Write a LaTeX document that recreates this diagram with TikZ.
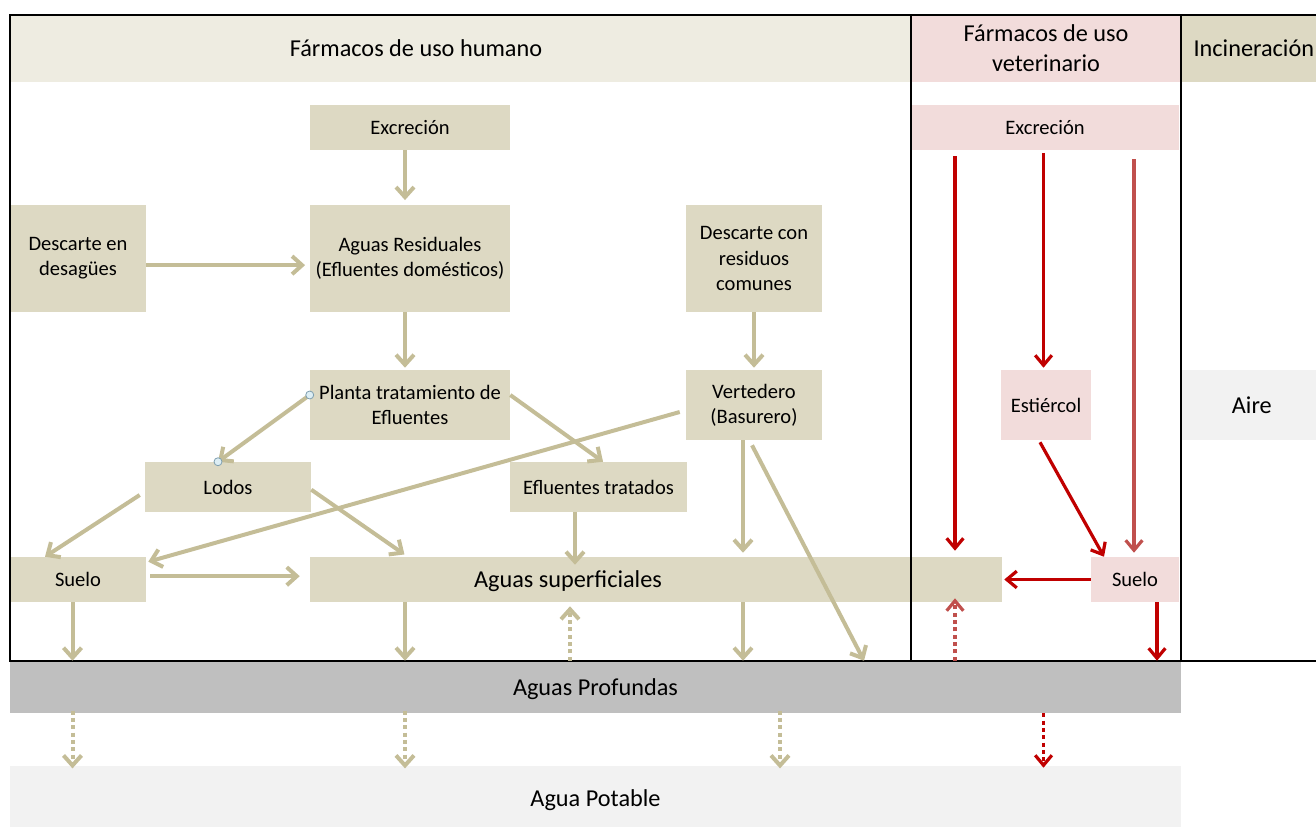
\documentclass[tikz,border=0pt]{standalone}
\usepackage{fontspec}
\setmainfont{Carlito}
\usepackage{tikz}
\usepackage{xcolor}
\usetikzlibrary{
    arrows.meta,
    calc,
    positioning
}

\definecolor{boxbeige}{HTML}{DDD9C3}
\definecolor{headbeige}{HTML}{EEECE1}
\definecolor{arrowbeige}{HTML}{C4BD97}
\definecolor{vetpink}{HTML}{F2DCDB}
\definecolor{vetred}{HTML}{C00000}
\definecolor{vetredlight}{HTML}{C0504D}
\definecolor{deepgray}{HTML}{BFBFBF}
\definecolor{palegray}{HTML}{F2F2F2}
\definecolor{handlefill}{HTML}{DDEEF4}
\definecolor{handleedge}{HTML}{7F9FB0}

\newcommand\flowfont{\fontsize{15.4}{18.8}\selectfont}
\newcommand\bandfont{\fontsize{18.2}{22.5}\selectfont}

\tikzset{
    box/.style={fill=boxbeige, inner sep=0pt, align=center, font=\flowfont},
    pinkbox/.style={box, fill=vetpink},
    wh/.style 2 args={minimum width=#1*0.75pt, minimum height=#2*0.75pt},
    flow/.style={draw=arrowbeige, line width=3pt, >={Straight Barb[length=7.5pt,width=13.5pt]}},
    redflow/.style={draw=vetred, line width=2.4pt, >={Straight Barb[length=7.5pt,width=12.5pt]}},
    seep/.style={dash pattern=on 3pt off 2.5pt},
    frame/.style={draw=black, line width=1.5pt},
    handle/.style={draw=handleedge, fill=handlefill, line width=0.6pt}
}

\begin{document}
\begin{tikzpicture}[x=0.75pt, y=-0.75pt]
                    \useasboundingbox (0, 0) rectangle (1316, 827);

                    % headers
                    \node[box, fill=headbeige, wh={901}{67}, label={[font=\bandfont, xshift=-33.4pt]center:Fármacos de uso humano}] (hhum) at (460.5, 48.5) {};
                    \node[pinkbox, wh={270}{67}, font=\bandfont] (hvet) at (1046, 48.5) {Fármacos de uso\\veterinario};
                    \node[box, wh={135}{67}, label={[font=\bandfont, xshift=4pt]center:Incineración}] (hinc) at (1248.5, 48.5) {};

                    % uso humano
                    \node[box, wh={200}{45}] (excr) at (410, 127.5) {Excreción};
                    \node[box, wh={136}{107}] (desag) at (78, 258.5) {Descarte en\\desagües};
                    \node[box, wh={200}{107}] (resid) at (410, 258.5) {Aguas Residuales\\(Efluentes domésticos)};
                    \node[box, wh={136}{107}] (desres) at (754, 258.5) {Descarte con\\residuos\\comunes};
                    \node[box, wh={200}{70}] (planta) at (410, 405) {Planta tratamiento de\\Efluentes};
                    \node[box, wh={136}{70}] (verte) at (754, 405) {Vertedero\\(Basurero)};
                    \node[box, wh={166}{50}] (lodos) at (228, 487) {Lodos};
                    \node[box, wh={177}{50}] (eflt) at (598.5, 487) {Efluentes tratados};
                    \node[box, wh={136}{45}] (suelo) at (78, 579.5) {Suelo};
                    \node[box, wh={692}{45}, label={[font=\bandfont, xshift=-66pt, yshift=-1.5pt]center:Aguas superficiales}] (asup) at (656, 579.5) {};

                    % uso veterinario
                    \node[pinkbox, wh={268}{45}] (vexcr) at (1045, 127.5) {Excreción};
                    \node[pinkbox, wh={90}{70}] (estier) at (1046, 405) {Estiércol};
                    \node[pinkbox, wh={88}{45}] (vsuelo) at (1135, 579.5) {Suelo};
                    \node[box, fill=palegray, wh={135}{70}, label={[font=\bandfont, xshift=2.5pt]center:Aire}] (aire) at (1248.5, 405) {};

                    % aguas
                    \node[box, fill=deepgray, wh={1171}{52}, label={[font=\bandfont, yshift=-1.5pt]center:Aguas Profundas}] (prof) at (595.5, 687) {};
                    \node[box, fill=palegray, wh={1171}{62}, label={[font=\bandfont, yshift=-2.5pt]center:Agua Potable}] (potable) at (595.5, 797) {};

                    % frames
                    \draw[frame] (hhum.north west) rectangle (hhum.east |- prof.north);
                    \draw[frame] (hvet.north west) rectangle (hvet.east |- prof.north);
                    \draw[frame] (hinc.north west) -- (hinc.north east);
                    \draw[frame] (hinc.west |- prof.north) -- (hinc.east |- prof.north);

                    \coordinate (colA) at (72.5, 0);
                    \coordinate (colB) at (405, 0);
                    \coordinate (colC) at (570, 0);
                    \coordinate (colD) at (575, 0);
                    \coordinate (colE) at (743, 0);
                    \coordinate (colF) at (780, 0);
                    \coordinate (colK) at (864, 0);
                    \coordinate (colG) at (955, 0);
                    \coordinate (colH) at (1043.5, 0);
                    \coordinate (colI) at (1134, 0);
                    \coordinate (colJ) at (1157, 0);
                    \coordinate (pl1) at ([yshift=7.5pt]planta.west);
                    \coordinate (lo1) at ([xshift=-7.5pt]lodos.north);

                    \draw[flow]
                    (excr.south -| colB) edge[->, shorten >=3.5pt] (resid.north -| colB)
                    ([yshift=-5pt]desag.east) edge[->, shorten >=3.5pt] ([yshift=-5pt]resid.west)
                    (resid.south -| colB) edge[->, shorten >=1.5pt] (planta.north -| colB)
                    (desres.south) edge[->, shorten >=1.5pt] (verte.north)
                    (pl1) edge[->] (lo1)
                    ([yshift=7.5pt]planta.east) edge[->] ([xshift=3.4pt]eflt.north)
                    ([shift={(-4.5pt,-5.25pt)}]verte.west) edge[->] ([shift={(1.5pt,-3.75pt)}]suelo.north east)
                    ([shift={(-3.75pt,-6pt)}]lodos.west) edge[->] ([xshift=-24.75pt]suelo.north)
                    ([yshift=-2pt]lodos.east) edge[->, shorten >=3pt] ([xshift=73.5pt]asup.north west)
                    (eflt.south -| colD) edge[->, shorten >=-6pt] (asup.north -| colD)
                    (verte.south -| colE) edge[->, shorten >=3pt] (asup.north -| colE)
                    ([shift={(-1.5pt,-3.75pt)}]verte.south) edge[->] (prof.north -| colK)
                    ([yshift=2.5pt]suelo.east) edge[->, shorten <=3pt, shorten >=7.5pt] ([yshift=2.5pt]asup.west)
                    (suelo.south -| colA) edge[->] (prof.north -| colA)
                    (asup.south -| colB) edge[->] (prof.north -| colB)
                    (asup.south -| colE) edge[->] (prof.north -| colE);

                    \draw[flow, seep]
                    (prof.north -| colC) edge[->, shorten >=3pt] (asup.south -| colC)
                    (prof.south -| colA) edge[->, shorten <=-2pt, shorten >=-2pt] (potable.north -| colA)
                    (prof.south -| colB) edge[->, shorten <=-2pt, shorten >=-2pt] (potable.north -| colB)
                    (prof.south -| colF) edge[->, shorten <=-2pt, shorten >=-2pt] (potable.north -| colF);

                    \draw[redflow]
                    (vexcr.south -| colG) edge[->, shorten <=4.5pt, shorten >=4.5pt] (asup.north -| colG)
                    (vexcr.south -| colH) edge[->, shorten <=2pt, shorten >=1.5pt] (estier.north -| colH)
                    (vexcr.south -| colI) edge[->, draw=vetredlight, shorten <=6.75pt, shorten >=3pt] (vsuelo.north -| colI)
                    ([shift={(-4.5pt,-1.5pt)}]estier.south) edge[->] ([xshift=-23.25pt]vsuelo.north)
                    (vsuelo.west) edge[->, shorten >=1.5pt] (asup.east)
                    (vsuelo.south -| colJ) edge[->] (prof.north -| colJ)
                    (prof.north -| colG) edge[->, seep, draw=vetredlight, shorten >=-3pt] (asup.south -| colG)
                    (prof.south -| colH) edge[->, seep, shorten >=-1.5pt] (potable.north -| colH);

                    \draw[handle] (pl1) circle (3pt);
                    \draw[handle] (lo1) circle (3pt);
                \end{tikzpicture}
\end{document}
